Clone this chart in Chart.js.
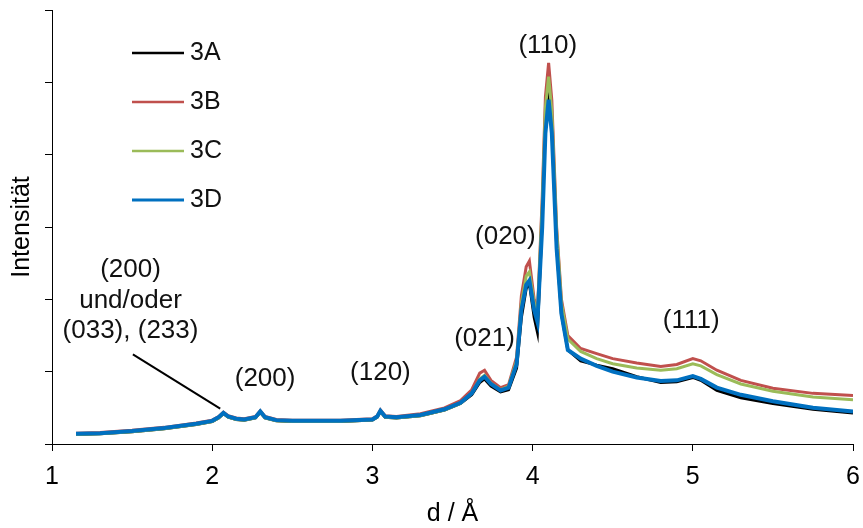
<!DOCTYPE html>
<html>
<head>
<meta charset="utf-8">
<script src="https://cdn.jsdelivr.net/npm/chart.js@4/dist/chart.umd.min.js"></script>
<style>
  body { margin: 0; background: #fff; }
  #wrap { width: 863px; height: 528px; }
</style>
</head>
<body>
<div id="wrap"><canvas id="xrdChart" width="863" height="528"></canvas></div>
<script>
// d-Werte (Å), gemeinsam für alle Proben
const dValues = [1.15, 1.3, 1.5, 1.7, 1.9, 2.0, 2.04, 2.07, 2.1, 2.15,
  2.2, 2.27, 2.3, 2.33, 2.4, 2.5, 2.6, 2.8, 3.0, 3.03,
  3.05, 3.08, 3.15, 3.3, 3.45, 3.55, 3.62, 3.67, 3.70, 3.74,
  3.8, 3.85, 3.9, 3.93, 3.96, 3.98, 4.01, 4.03, 4.06, 4.08,
  4.10, 4.12, 4.15, 4.18, 4.22, 4.3, 4.4, 4.5, 4.65, 4.8,
  4.9, 5.0, 5.05, 5.15, 5.3, 5.5, 5.75, 6.0];

const int3A = [0.13, 0.14, 0.17, 0.21, 0.27, 0.31, 0.36, 0.42, 0.37, 0.34,
  0.33, 0.36, 0.44, 0.36, 0.32, 0.31, 0.31, 0.31, 0.33, 0.37,
  0.45, 0.37, 0.36, 0.39, 0.47, 0.56, 0.68, 0.85, 0.90, 0.80,
  0.72, 0.75, 1.05, 1.75, 2.15, 2.22, 1.75, 1.55, 3.1, 4.45,
  4.9, 4.4, 2.75, 1.8, 1.3, 1.15, 1.09, 1.04, 0.93, 0.85,
  0.86, 0.92, 0.88, 0.74, 0.64, 0.56, 0.48, 0.43];

const int3B = [0.15, 0.16, 0.19, 0.23, 0.29, 0.33, 0.38, 0.44, 0.39, 0.36,
  0.35, 0.38, 0.46, 0.38, 0.34, 0.33, 0.33, 0.33, 0.35, 0.39,
  0.47, 0.39, 0.38, 0.42, 0.50, 0.60, 0.75, 0.98, 1.02, 0.88,
  0.78, 0.82, 1.2, 2.05, 2.45, 2.53, 2.0, 1.8, 3.4, 4.8,
  5.27, 4.75, 3.0, 2.0, 1.5, 1.32, 1.25, 1.18, 1.12, 1.07,
  1.10, 1.18, 1.15, 1.02, 0.88, 0.77, 0.70, 0.67];

const int3C = [0.13, 0.14, 0.17, 0.21, 0.27, 0.31, 0.36, 0.42, 0.37, 0.34,
  0.33, 0.36, 0.44, 0.36, 0.32, 0.31, 0.31, 0.31, 0.33, 0.37,
  0.45, 0.37, 0.36, 0.39, 0.47, 0.56, 0.70, 0.90, 0.95, 0.84,
  0.75, 0.80, 1.15, 1.95, 2.32, 2.38, 1.95, 1.78, 3.3, 4.65,
  5.08, 4.6, 2.95, 1.95, 1.45, 1.28, 1.18, 1.11, 1.05, 1.02,
  1.04, 1.11, 1.08, 0.96, 0.83, 0.73, 0.65, 0.61];

const int3D = [0.14, 0.15, 0.18, 0.22, 0.28, 0.32, 0.37, 0.43, 0.38, 0.35,
  0.34, 0.37, 0.45, 0.37, 0.33, 0.32, 0.32, 0.32, 0.34, 0.38,
  0.46, 0.38, 0.37, 0.40, 0.48, 0.57, 0.70, 0.88, 0.93, 0.83,
  0.74, 0.78, 1.1, 1.85, 2.20, 2.26, 1.85, 1.69, 3.0, 4.3,
  4.76, 4.3, 2.7, 1.8, 1.3, 1.18, 1.08, 1.00, 0.92, 0.87,
  0.88, 0.94, 0.90, 0.78, 0.68, 0.59, 0.50, 0.45];

const sampleNames = ["3A", "3B", "3C", "3D"];
const sampleColors = ["#000000", "#c0504d", "#9bbb59", "#0070c0"];
const xTicks = [1, 2, 3, 4, 5, 6];

// Reflexbeschriftungen: [Text, d, Intensität]
const reflexLabels = [
  ["(110)", 4.095, 5.50],
  ["(020)", 3.83, 2.86],
  ["(021)", 3.70, 1.45],
  ["(120)", 3.05, 0.98],
  ["(200)", 2.33, 0.90],
  ["(111)", 4.99, 1.70],
  ["(200)", 1.49, 2.41],
  ["und/oder", 1.49, 1.98],
  ["(033), (233)", 1.49, 1.57]
];
const pointerLine = [[1.505, 1.24], [2.05, 0.49]];

const FONT = "Arial, 'Liberation Sans', sans-serif";
const FSIZE = 25;

function toPoints(arr) {
  return dValues.map((d, i) => ({ x: d, y: arr[i] }));
}

const allSeries = [int3A, int3B, int3C, int3D];
const lineWidths = [3, 3, 3, 4];

const datasets = allSeries.map((s, i) => ({
  label: sampleNames[i],
  data: toPoints(s),
  borderColor: sampleColors[i],
  backgroundColor: sampleColors[i],
  borderWidth: lineWidths[i],
  pointRadius: 0,
  tension: 0,
  fill: false,
  order: 3 - i   // 3D zuletzt gezeichnet (oben)
}));

const annotPlugin = {
  id: "annot",
  afterDatasetsDraw(chart) {
    const ctx = chart.ctx;
    const xs = chart.scales.x, ys = chart.scales.y;
    ctx.save();
    ctx.fillStyle = "#111";
    ctx.font = (FSIZE + 1) + "px " + FONT;
    ctx.textAlign = "center";
    ctx.textBaseline = "middle";
    reflexLabels.forEach(l => {
      ctx.fillText(l[0], xs.getPixelForValue(l[1]), ys.getPixelForValue(l[2]));
    });
    ctx.strokeStyle = "#000";
    ctx.lineWidth = 2;
    ctx.beginPath();
    ctx.moveTo(xs.getPixelForValue(pointerLine[0][0]), ys.getPixelForValue(pointerLine[0][1]));
    ctx.lineTo(xs.getPixelForValue(pointerLine[1][0]), ys.getPixelForValue(pointerLine[1][1]));
    ctx.stroke();

    // Legende
    ctx.font = FSIZE + "px " + FONT;
    const a = chart.chartArea;
    chart.data.datasets.forEach((ds, i) => {
      const y = a.top + 43 + i * 49;
      ctx.strokeStyle = ds.borderColor;
      ctx.lineWidth = i == 3 ? 3 : 2.5;
      ctx.beginPath();
      ctx.moveTo(a.left + 80, y);
      ctx.lineTo(a.left + 132, y);
      ctx.stroke();
      ctx.textAlign = "left";
      ctx.fillText(ds.label, a.left + 138, y);
    });
    ctx.restore();
  }
};

const config = {
  type: "line",
  data: { datasets: datasets },
  options: {
    responsive: false,
    animation: false,
    layout: { padding: { left: 3, right: 10, top: 10, bottom: 4 } },
    plugins: { legend: { display: false }, tooltip: { enabled: false } },
    scales: {
      x: {
        type: "linear",
        min: 1,
        max: 6,
        afterBuildTicks: (s) => { s.ticks = xTicks.map(v => ({ value: v })); },
        afterFit: (s) => { s.paddingRight = 0; s.paddingLeft = 0; },
        grid: { drawOnChartArea: false, drawTicks: true, tickLength: 7, color: "#000", lineWidth: 1 },
        border: { display: true, color: "#000", width: 1 },
        ticks: { color: "#000", font: { size: FSIZE, family: FONT, lineHeight: 1.0 }, padding: 14 },
        title: { display: true, text: "d / Å", color: "#000", font: { size: FSIZE, family: FONT, lineHeight: 0.8 }, padding: { top: 0, bottom: 0 } }
      },
      y: {
        min: 0,
        max: 6,
        ticks: { display: false, stepSize: 1 },
        grid: { drawOnChartArea: false, drawTicks: true, tickLength: 7, color: "#000", lineWidth: 1 },
        border: { display: true, color: "#000", width: 1 },
        title: { display: true, text: "Intensität", color: "#000", font: { size: FSIZE, family: FONT, lineHeight: 1.2 }, padding: { top: 4, bottom: 8 } }
      }
    }
  },
  plugins: [annotPlugin]
};

const xrdChart = new Chart(document.getElementById("xrdChart"), config);
</script>
</body>
</html>
